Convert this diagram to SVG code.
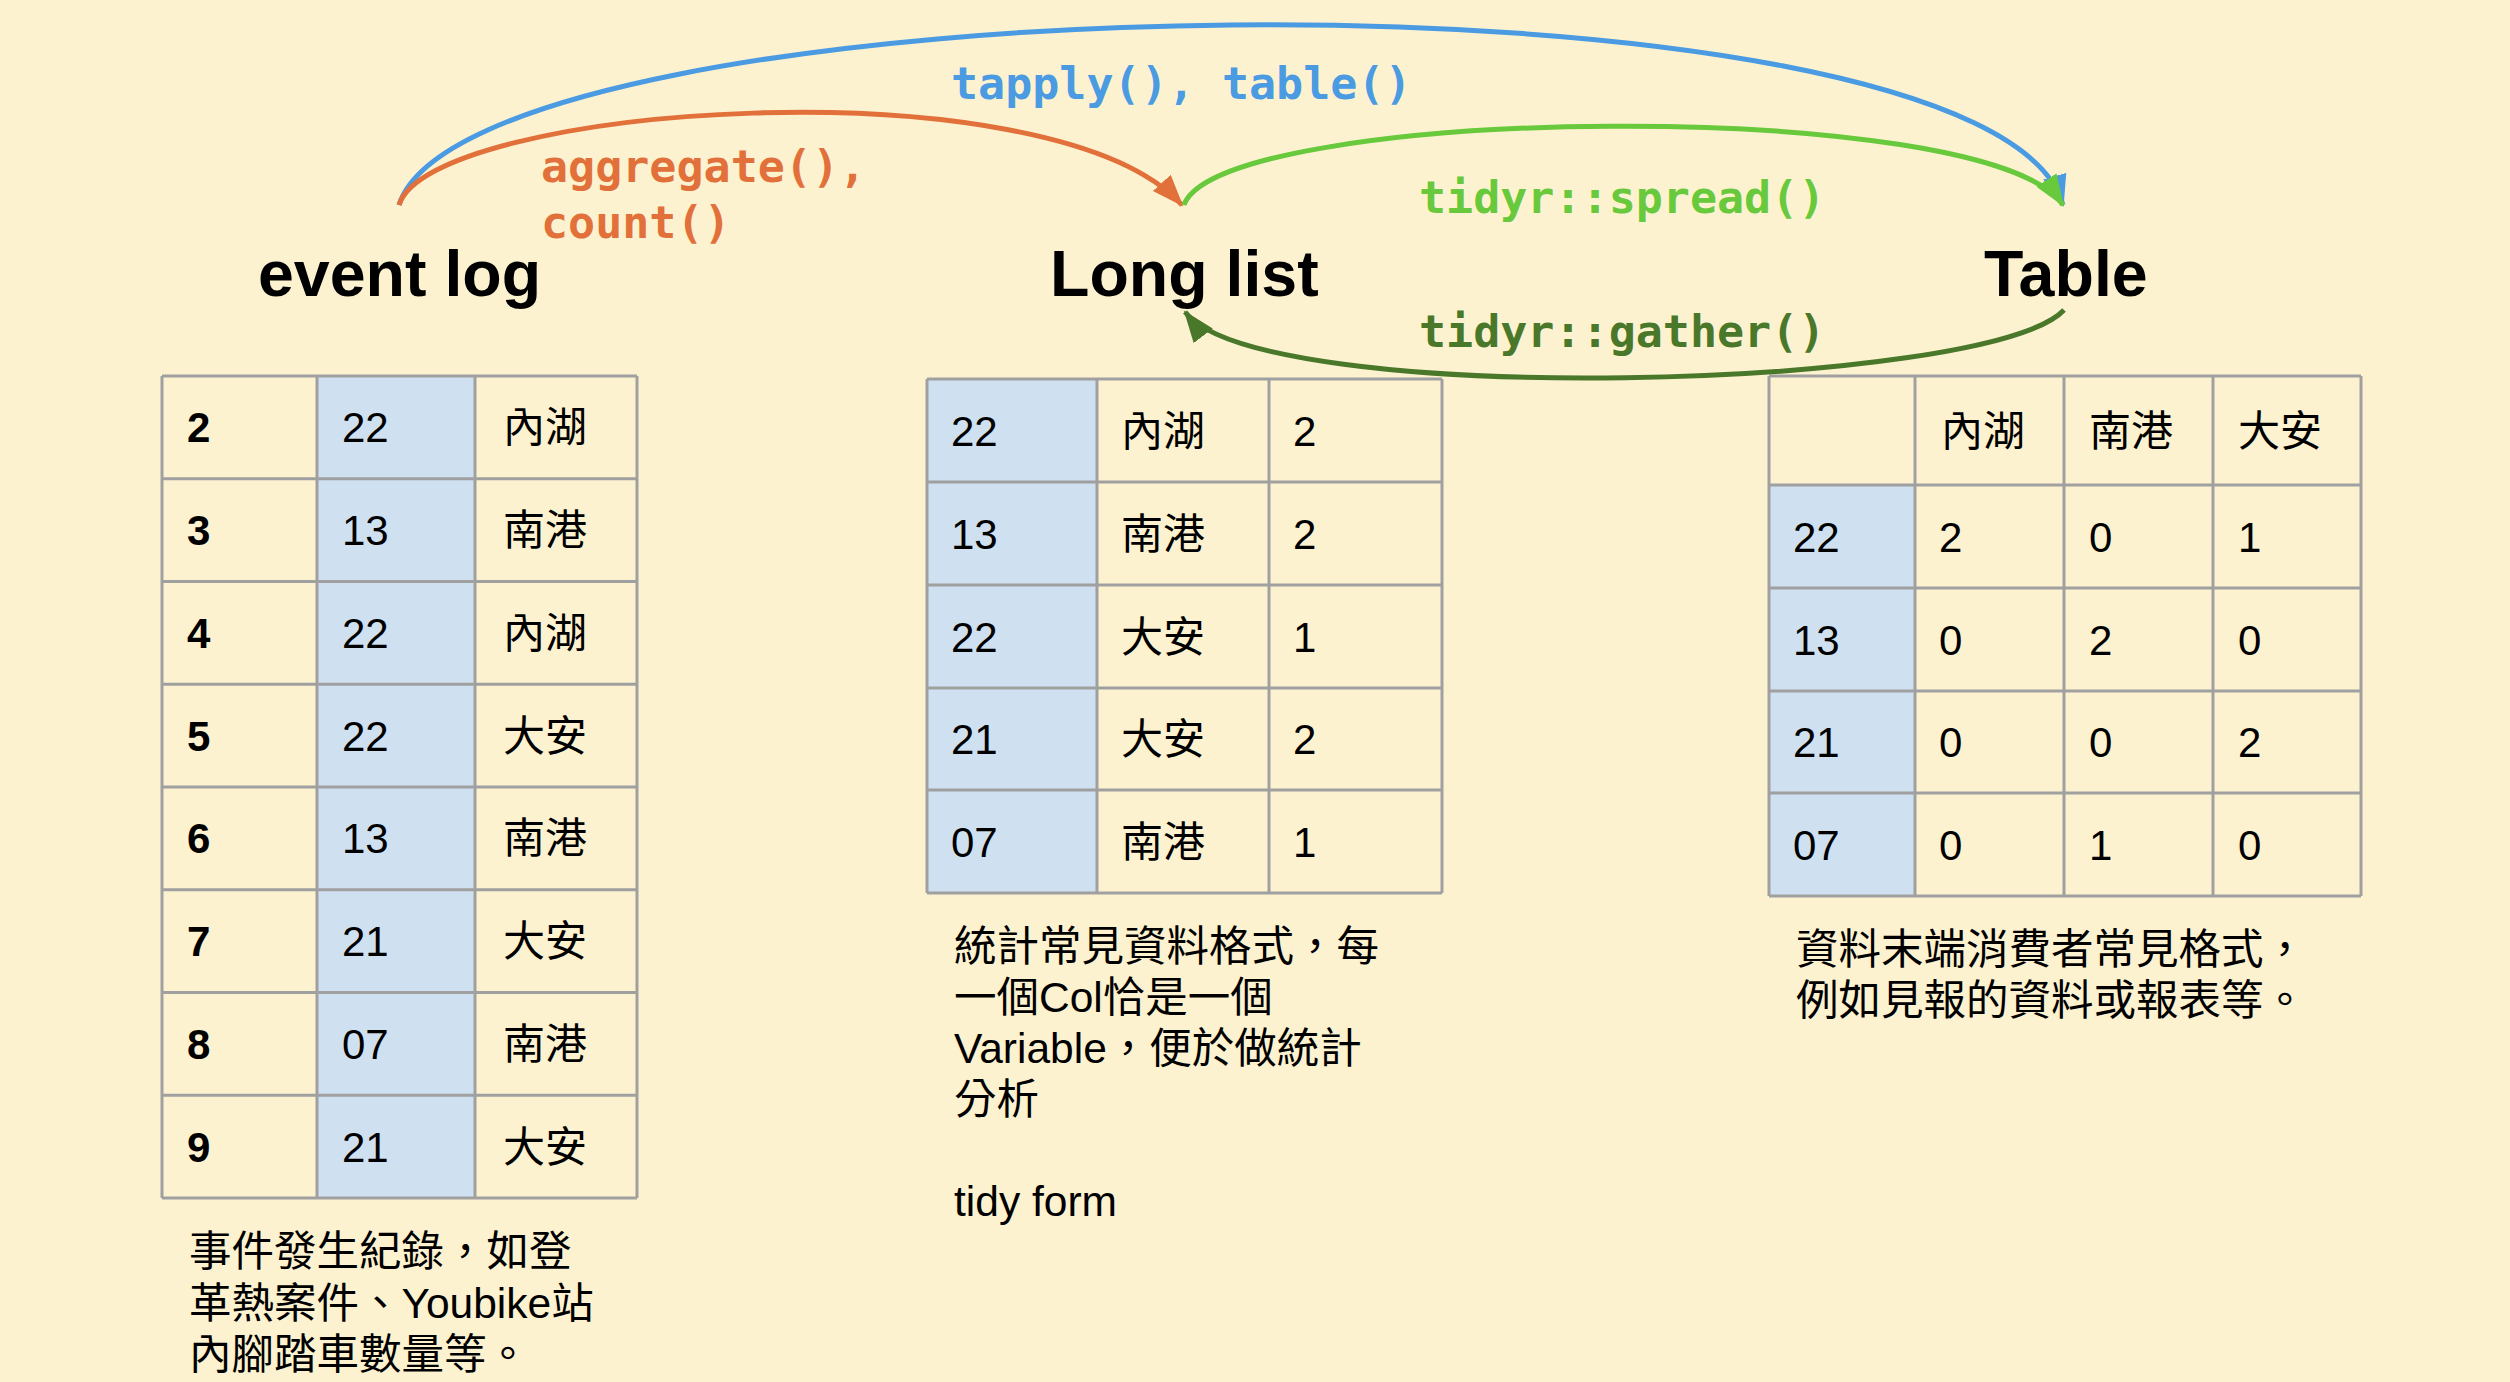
<svg xmlns="http://www.w3.org/2000/svg" width="2510" height="1382" viewBox="0 0 2510 1382">
<style>
.bg{fill:#fdf2d0}
.blue{fill:#cfe1f1}
.grid{fill:none;stroke:#a0a0a0;stroke-width:3}
.cell{font-family:"Liberation Sans","Noto Sans CJK TC",sans-serif;font-size:42px;fill:#000}
.b{font-weight:bold}
.title{font-family:"Liberation Sans",Arial,sans-serif;font-size:64.5px;font-weight:bold;fill:#000}
.desc{font-family:"Liberation Sans","Noto Sans CJK TC",sans-serif;font-size:42.5px;fill:#000}
.code{font-family:"DejaVu Sans Mono","Liberation Mono",monospace;font-size:45px;font-weight:bold}
.conn{fill:none;stroke-width:5}
</style>
<defs>
<marker id="ahO" markerUnits="userSpaceOnUse" markerWidth="34" markerHeight="26" refX="30" refY="12" orient="auto" viewBox="0 0 34 24"><path d="M0,0 L32,12 L0,24 z" fill="#e2703a"/></marker>
<marker id="ahB" markerUnits="userSpaceOnUse" markerWidth="34" markerHeight="26" refX="30" refY="12" orient="auto" viewBox="0 0 34 24"><path d="M0,0 L32,12 L0,24 z" fill="#4a9be2"/></marker>
<marker id="ahG" markerUnits="userSpaceOnUse" markerWidth="34" markerHeight="26" refX="30" refY="12" orient="auto" viewBox="0 0 34 24"><path d="M0,0 L32,12 L0,24 z" fill="#67c93b"/></marker>
<marker id="ahD" markerUnits="userSpaceOnUse" markerWidth="34" markerHeight="26" refX="30" refY="12" orient="auto" viewBox="0 0 34 24"><path d="M0,0 L32,12 L0,24 z" fill="#4a782b"/></marker>
</defs>
<rect class="bg" x="0" y="0" width="2510" height="1382"/>

<g id="event-log">
<text class="title" x="258" y="296">event log</text>
<rect class="blue" x="317" y="376" width="158" height="822"/>
<path class="grid" d="M162,376H637M162,478.75H637M162,581.5H637M162,684.25H637M162,787H637M162,889.75H637M162,992.5H637M162,1095.25H637M162,1198H637M162,376V1198M317,376V1198M475,376V1198M637,376V1198"/>
<g class="cell">
<text class="b" x="187" y="442">2</text><text x="342" y="442">22</text><text x="503" y="442">內湖</text>
<text class="b" x="187" y="545">3</text><text x="342" y="545">13</text><text x="503" y="545">南港</text>
<text class="b" x="187" y="648">4</text><text x="342" y="648">22</text><text x="503" y="648">內湖</text>
<text class="b" x="187" y="751">5</text><text x="342" y="751">22</text><text x="503" y="751">大安</text>
<text class="b" x="187" y="853">6</text><text x="342" y="853">13</text><text x="503" y="853">南港</text>
<text class="b" x="187" y="956">7</text><text x="342" y="956">21</text><text x="503" y="956">大安</text>
<text class="b" x="187" y="1059">8</text><text x="342" y="1059">07</text><text x="503" y="1059">南港</text>
<text class="b" x="187" y="1162">9</text><text x="342" y="1162">21</text><text x="503" y="1162">大安</text>
</g>
<g class="desc">
<text x="189" y="1266">事件發生紀錄，如登</text>
<text x="189" y="1318">革熱案件、Youbike站</text>
<text x="189" y="1369">內腳踏車數量等。</text>
</g>
</g>

<g id="long-list">
<text class="title" x="1050" y="296">Long list</text>
<rect class="blue" x="927" y="379" width="170" height="514"/>
<path class="grid" d="M927,379H1442M927,482H1442M927,585H1442M927,688H1442M927,790H1442M927,893H1442M927,379V893M1097,379V893M1269,379V893M1442,379V893"/>
<g class="cell">
<text x="951" y="446">22</text><text x="1121" y="446">內湖</text><text x="1293" y="446">2</text>
<text x="951" y="549">13</text><text x="1121" y="549">南港</text><text x="1293" y="549">2</text>
<text x="951" y="652">22</text><text x="1121" y="652">大安</text><text x="1293" y="652">1</text>
<text x="951" y="754">21</text><text x="1121" y="754">大安</text><text x="1293" y="754">2</text>
<text x="951" y="857">07</text><text x="1121" y="857">南港</text><text x="1293" y="857">1</text>
</g>
<g class="desc">
<text x="954" y="961">統計常見資料格式，每</text>
<text x="954" y="1012">一個Col恰是一個</text>
<text x="954" y="1063">Variable，便於做統計</text>
<text x="954" y="1114">分析</text>
<text x="954" y="1216">tidy form</text>
</g>
</g>

<g id="table">
<text class="title" x="1984" y="296">Table</text>
<rect class="blue" x="1769" y="485" width="146" height="411"/>
<path class="grid" d="M1769,376H2361M1769,485H2361M1769,588H2361M1769,691H2361M1769,793H2361M1769,896H2361M1769,376V896M1915,376V896M2064,376V896M2213,376V896M2361,376V896"/>
<g class="cell">
<text x="1941" y="446">內湖</text><text x="2089" y="446">南港</text><text x="2238" y="446">大安</text>
<text x="1793" y="552">22</text><text x="1939" y="552">2</text><text x="2089" y="552">0</text><text x="2238" y="552">1</text>
<text x="1793" y="655">13</text><text x="1939" y="655">0</text><text x="2089" y="655">2</text><text x="2238" y="655">0</text>
<text x="1793" y="757">21</text><text x="1939" y="757">0</text><text x="2089" y="757">0</text><text x="2238" y="757">2</text>
<text x="1793" y="860">07</text><text x="1939" y="860">0</text><text x="2089" y="860">1</text><text x="2238" y="860">0</text>
</g>
<g class="desc">
<text x="1796" y="964">資料末端消費者常見格式，</text>
<text x="1796" y="1015">例如見報的資料或報表等。</text>
</g>
</g>

<g id="connectors">
<path class="conn" stroke="#4a9be2" marker-end="url(#ahB)" d="M399,205 C470,-20 1990,-50 2063,205"/>
<path class="conn" stroke="#e2703a" marker-end="url(#ahO)" d="M399,205 C430,105 1050,60 1182,205"/>
<path class="conn" stroke="#67c93b" marker-end="url(#ahG)" d="M1184,205 C1220,105 1990,95 2063,205"/>
<path class="conn" stroke="#4a782b" marker-end="url(#ahD)" d="M2064,310 C1990,390 1260,410 1185,312"/>
<text class="code" fill="#4a9be2" x="951" y="99">tapply(), table()</text>
<text class="code" fill="#e2703a" x="541" y="182">aggregate(),</text>
<text class="code" fill="#e2703a" x="541" y="238">count()</text>
<text class="code" fill="#67c93b" x="1419" y="213">tidyr::spread()</text>
<text class="code" fill="#4a782b" x="1419" y="347">tidyr::gather()</text>
</g>
</svg>
